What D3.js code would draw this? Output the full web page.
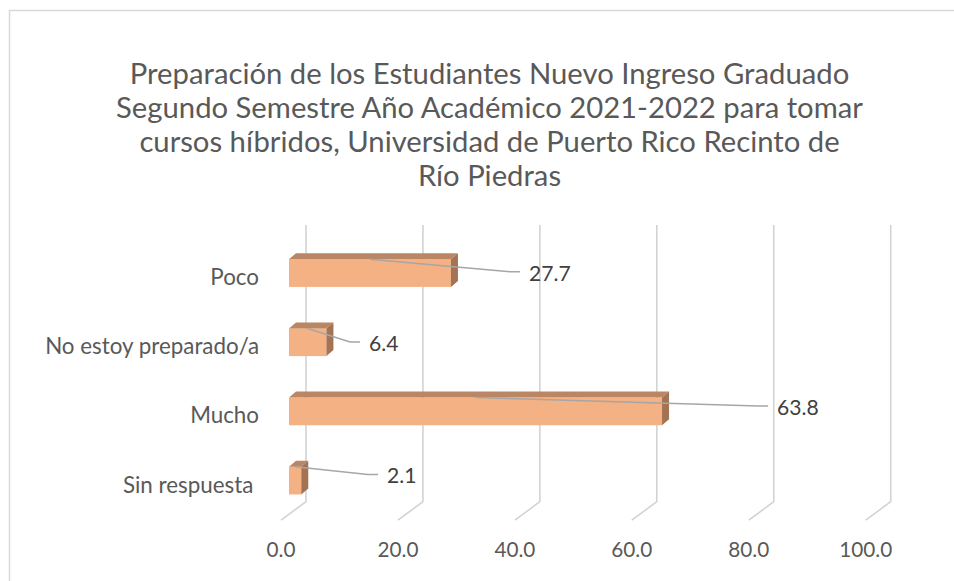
<!DOCTYPE html>
<html>
<head>
<meta charset="utf-8">
<script src="https://cdn.jsdelivr.net/npm/d3@7"></script>
<style>
  html, body { margin: 0; padding: 0; background: #ffffff; }
  svg { display: block; }
</style>
</head>
<body>
<svg id="chart" width="954" height="581"></svg>
<script>
// ---------- DATA ----------
const titleLines = [
  "Preparación de los Estudiantes Nuevo Ingreso Graduado",
  "Segundo Semestre Año Académico 2021-2022 para tomar",
  "cursos híbridos, Universidad de Puerto Rico Recinto de",
  "Río Piedras"
];
const categories = ["Poco", "No estoy preparado/a", "Mucho", "Sin respuesta "];
const values = [27.7, 6.4, 63.8, 2.1];
const tickValues = [0, 20, 40, 60, 80, 100];

// ---------- STYLE / LAYOUT ----------
const FONT = "Lato, 'Open Sans', sans-serif";
const backLeft = 306, backRight = 890.7, wallTop = 225, wallBottom = 501.7;
const floorDepth = { dx: -25, dy: 18.5 };   // back wall -> front edge of floor
const barFront = { dx: -17, dy: 13.5 };     // back wall -> bar front face
const barDepth = { dx: 7, dy: -6 };         // bar front face -> bar back face
const faceColors = { front: "#F4B183", top: "#BA8663", side: "#A37353" };
// leader elbows relative to bar end (px) and bar centre (px)
const labelStyle = [
  { ex: 59, ey: -1.3 },
  { ex: 23.6, ey: -0.3 },
  { ex: 96, ey: -5.5 },
  { ex: 66.7, ey: -6 }
];

const svg = d3.select("#chart");

// border
svg.append("rect")
  .attr("x", 9.5).attr("y", 10.5)
  .attr("width", 960).attr("height", 600)
  .attr("fill", "none").attr("stroke", "#D9D9D9").attr("stroke-width", 1.5);

// font fitting helper
function fitSize(text, targetWidth) {
  const t = svg.append("text").attr("font-family", FONT).attr("font-size", 100).text(text);
  const w = t.node().getComputedTextLength();
  t.remove();
  return 100 * targetWidth / w;
}

const titleSize = fitSize(titleLines[1], 747);
const catSize = fitSize("No estoy preparado/a", 214);
const tickSize = fitSize("100.0", 53);
const valSize = fitSize("63.8", 41.7);

// title
svg.append("g").selectAll("text").data(titleLines).join("text")
  .attr("x", 489.5)
  .attr("y", (d, i) => 84.3 + i * 33.9)
  .attr("text-anchor", "middle")
  .attr("font-family", FONT)
  .attr("font-size", titleSize)
  .attr("fill", "#595959")
  .text(d => d);

// scales
const x = d3.scaleLinear().domain([0, 100]).range([backLeft, backRight]);
const y = d3.scaleBand().domain(categories).range([wallTop, wallBottom])
  .paddingInner(0.6).paddingOuter(0.3);

// gridlines (back wall + floor)
const grid = svg.append("g");
grid.selectAll("path").data(tickValues).join("path")
  .attr("d", d => `M${x(d)},${wallTop}L${x(d)},${wallBottom}L${x(d) + floorDepth.dx},${wallBottom + floorDepth.dy}`)
  .attr("fill", "none")
  .attr("stroke", "#D3D3D3")
  .attr("stroke-width", 1.6);

// tick labels
svg.append("g").selectAll("text").data(tickValues).join("text")
  .attr("x", d => x(d) + floorDepth.dx)
  .attr("y", 556.7)
  .attr("text-anchor", "middle")
  .attr("font-family", FONT)
  .attr("font-size", tickSize)
  .attr("fill", "#595959")
  .text(d => d3.format(".1f")(d));

// category labels
svg.append("g").selectAll("text").data(categories).join("text")
  .attr("x", 259)
  .attr("y", d => y(d) + barFront.dy + y.bandwidth() / 2 + 12)
  .attr("text-anchor", "end")
  .attr("xml:space", "preserve")
  .style("white-space", "pre")
  .attr("font-family", FONT)
  .attr("font-size", catSize)
  .attr("fill", "#595959")
  .text(d => d);

// bars
const rows = categories.map((c, i) => ({ c, v: values[i], i }));
const bars = svg.append("g").selectAll("g").data(rows).join("g");
const fx0 = d => x(0) + barFront.dx;
const fx1 = d => x(d.v) + barFront.dx;
const fy0 = d => y(d.c) + barFront.dy;
const fh = y.bandwidth();

bars.append("rect")
  .attr("x", fx0).attr("y", fy0)
  .attr("width", d => fx1(d) - fx0(d)).attr("height", fh)
  .attr("fill", faceColors.front);
bars.append("path")
  .attr("d", d => `M${fx0(d)},${fy0(d)}L${fx1(d)},${fy0(d)}L${fx1(d) + barDepth.dx},${fy0(d) + barDepth.dy}L${fx0(d) + barDepth.dx},${fy0(d) + barDepth.dy}Z`)
  .attr("fill", faceColors.top);
bars.append("path")
  .attr("d", d => `M${fx1(d)},${fy0(d)}L${fx1(d) + barDepth.dx},${fy0(d) + barDepth.dy}L${fx1(d) + barDepth.dx},${fy0(d) + barDepth.dy + fh}L${fx1(d)},${fy0(d) + fh}Z`)
  .attr("fill", faceColors.side);

// leader lines + data labels
const labels = svg.append("g");
rows.forEach((d, i) => {
  const sx = (fx0(d) + fx1(d)) / 2, sy = fy0(d);
  const ex = fx1(d) + labelStyle[i].ex;
  const ey = fy0(d) + fh / 2 + labelStyle[i].ey;
  labels.append("path")
    .attr("d", `M${sx},${sy}L${ex},${ey}L${ex + 10},${ey}`)
    .attr("fill", "none")
    .attr("stroke", "#A6A6A6")
    .attr("stroke-width", 1.5);
  labels.append("text")
    .attr("x", ex + 19)
    .attr("y", ey + 8.8)
    .attr("font-family", FONT)
    .attr("font-size", valSize)
    .attr("fill", "#404040")
    .text(d3.format(".1f")(d.v));
});
</script>
</body>
</html>
